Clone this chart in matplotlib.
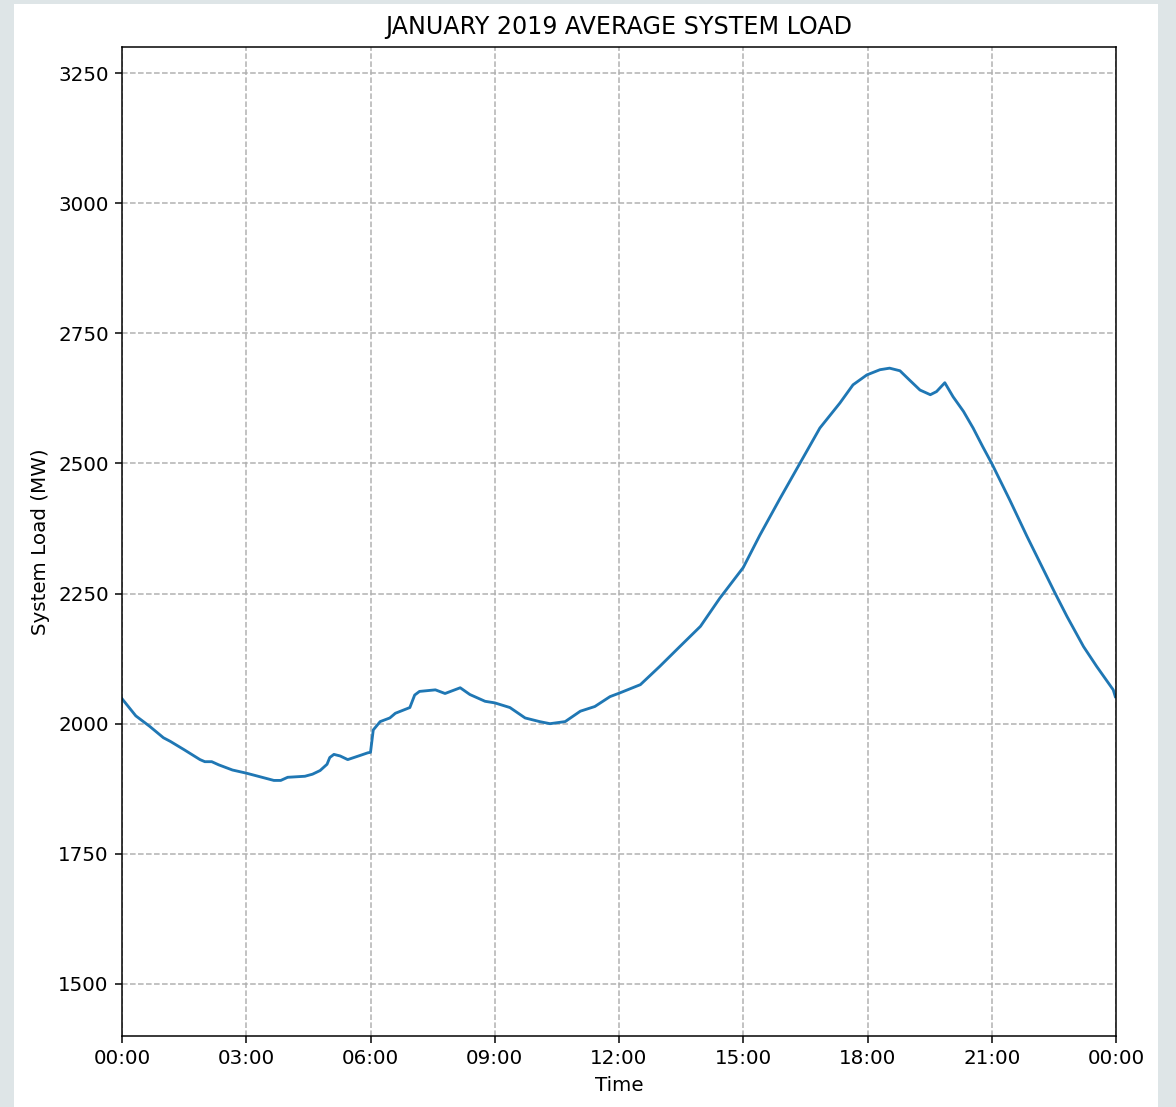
import pandas as pd
import matplotlib
matplotlib.use("Agg")
import matplotlib.pyplot as plt
import matplotlib.dates as mdates
from matplotlib.patches import Rectangle

# Average load through the day
times = ["00:00", "00:20", "00:40", "01:00", "01:10", "01:30", "01:53", "02:00",
         "02:10", "02:20", "02:40", "03:00", "03:20", "03:40", "03:50", "04:00",
         "04:25", "04:36", "04:47", "04:57", "05:01", "05:07", "05:16", "05:27",
         "05:45", "05:56", "06:00", "06:04", "06:14", "06:28", "06:36", "06:57",
         "07:04", "07:11", "07:34", "07:48", "08:10", "08:24", "08:46", "09:00",
         "09:22", "09:44", "10:05", "10:20", "10:42", "11:04", "11:25", "11:47",
         "12:01", "12:31", "12:59", "13:28", "13:58", "14:26", "15:00", "15:24",
         "15:53", "16:22", "16:51", "17:20", "17:39", "17:59", "18:18", "18:32",
         "18:47", "19:01", "19:16", "19:31", "19:40", "19:52", "20:04", "20:19",
         "20:33", "20:47", "21:00", "21:26", "21:51", "22:10", "22:32", "22:49",
         "23:13", "23:32", "23:56", "23:59"]
load_mw = [2048, 2015, 1995, 1973, 1966, 1950, 1931, 1927,
           1927, 1921, 1911, 1905, 1898, 1891, 1891, 1897,
           1899, 1903, 1910, 1922, 1935, 1941, 1938, 1931,
           1939, 1944, 1945, 1988, 2004, 2011, 2020, 2031,
           2055, 2062, 2065, 2058, 2069, 2056, 2043, 2040,
           2031, 2011, 2004, 2000, 2004, 2024, 2033, 2052,
           2059, 2075, 2110, 2148, 2187, 2241, 2300, 2362,
           2432, 2500, 2568, 2616, 2651, 2670, 2680, 2683,
           2678, 2660, 2641, 2632, 2638, 2655, 2628, 2600,
           2568, 2532, 2500, 2430, 2360, 2309, 2250, 2206,
           2148, 2110, 2065, 2052]

t = pd.to_datetime(["2019-01-01 " + s for s in times])

plt.rcParams["font.size"] = 10.5

fig = plt.figure(figsize=(1176 / 136, 1107 / 136), dpi=136, facecolor="#dee5e7")
# white page inside the grey frame
fig.patches.append(Rectangle((14 / 1176, 0), (1158 - 14) / 1176, (1107 - 4) / 1107,
                             transform=fig.transFigure, facecolor="white",
                             edgecolor="none", zorder=-10))

ax = fig.add_axes([122 / 1176, 71 / 1107, (1116 - 122) / 1176, (1036 - 47) / 1107])
ax.plot(t, load_mw, color="#1f77b4", linewidth=1.5)

ax.set_xlim(pd.Timestamp("2019-01-01 00:00"), pd.Timestamp("2019-01-02 00:00"))
ax.set_ylim(1400, 3300)
ax.set_yticks([1500, 1750, 2000, 2250, 2500, 2750, 3000, 3250])
ax.xaxis.set_major_locator(mdates.HourLocator(interval=3))
ax.xaxis.set_major_formatter(mdates.DateFormatter("%H:%M"))

ax.grid(True, linestyle="--", color="#b0b0b0", linewidth=0.8)
ax.set_title("JANUARY 2019 AVERAGE SYSTEM LOAD", fontsize=12.6, pad=7)
ax.set_xlabel("Time")
ax.set_ylabel("System Load (MW)")

fig.savefig("out.png", dpi=136, facecolor=fig.get_facecolor())
